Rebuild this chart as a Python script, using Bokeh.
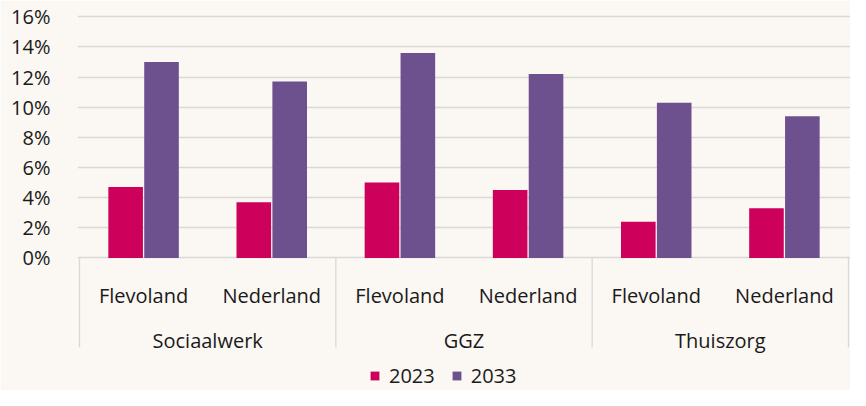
from bokeh.plotting import figure
from bokeh.models import (ColumnDataSource, FactorRange, Range1d, FixedTicker,
                          PrintfTickFormatter, Legend, LegendItem)
from bokeh.transform import dodge
from bokeh.core.properties import value
from bokeh.embed import file_html
from bokeh.resources import INLINE

# ---- data ----
groups = ["Sociaalwerk", "GGZ", "Thuiszorg"]
regions = ["Flevoland", "Nederland"]
years = ["2023", "2033"]
share_2023 = [4.7, 3.7, 5.0, 4.5, 2.4, 3.3]
share_2033 = [13.0, 11.7, 13.6, 12.2, 10.3, 9.4]
y_ticks = [0, 2, 4, 6, 8, 10, 12, 14, 16]

factors = [(g, r) for g in groups for r in regions]
sub_labels = [r for g in groups for r in regions]

# ---- style ----
BG = "#FBF7F2"
C23 = "#CD005C"
C33 = "#6D518F"
TXT = "#1A1A1A"
GRID = "#D9D9D9"
FONT = "Open Sans"

W, H = 850, 390
TOP = 4
Y0 = 257.4                      # pixel row of 0%
PX = (Y0 - 16.3) / 16.0         # pixels per percentage point
y_top = (Y0 - TOP) / PX
y_bot = (Y0 - H) / PX

x_range = FactorRange(*factors, factor_padding=0, group_padding=0,
                      range_padding=0.0156, range_padding_units="absolute")

p = figure(width=W, height=H, x_range=x_range,
           y_range=Range1d(y_bot, y_top),
           x_axis_location=None, output_backend="svg", toolbar_location=None,
           min_border_left=77, min_border_right=0, min_border_top=TOP,
           min_border_bottom=0, background_fill_color=BG, border_fill_color=BG,
           outline_line_color=None)

# y axis
p.yaxis.ticker = FixedTicker(ticks=y_ticks)
p.yaxis.formatter = PrintfTickFormatter(format="%d%%")
p.yaxis.axis_line_color = None
p.yaxis.major_tick_line_color = None
p.yaxis.minor_tick_line_color = None
p.yaxis.major_label_text_font = FONT
p.yaxis.major_label_text_font_size = "20px"
p.yaxis.major_label_text_color = TXT
p.yaxis.major_label_standoff = 21
p.ygrid.grid_line_color = GRID
p.ygrid.grid_line_width = 1.3
p.xgrid.grid_line_color = None

# bars
src = ColumnDataSource(dict(x=factors, v2023=share_2023, v2033=share_2033))
r1 = p.vbar(x=dodge("x", -0.14, range=p.x_range), top="v2023", width=0.27,
            source=src, fill_color=C23, line_color=None)
r2 = p.vbar(x=dodge("x", 0.14, range=p.x_range), top="v2033", width=0.27,
            source=src, fill_color=C33, line_color=None)

# category separators (multi-level axis look)
bnd = [[g, regions[0], -0.5] for g in groups] + [[groups[-1], regions[-1], 0.5]]
sep_src = ColumnDataSource(dict(x=bnd))
p.segment(x0="x", y0=0, x1="x", y1=(Y0 - 346.8) / PX, source=sep_src,
          line_color=GRID, line_width=1.3)

# sub-category labels
lab_src = ColumnDataSource(dict(x=factors, text=sub_labels))
p.text(x="x", y=(Y0 - 294.9) / PX, text="text", source=lab_src,
       text_font=value(FONT), text_font_size="20px", text_color=TXT,
       text_align="center", text_baseline="alphabetic")

# group labels
grp_src = ColumnDataSource(dict(x=groups, text=groups))
p.text(x="x", y=(Y0 - 340.1) / PX, text="text", source=grp_src,
       text_font=value(FONT), text_font_size="20px", text_color=TXT,
       text_align="center", text_baseline="alphabetic")

legend = Legend(items=[LegendItem(label=years[0], renderers=[r1]),
                       LegendItem(label=years[1], renderers=[r2])],
                location=(292, 1), orientation="horizontal",
                padding=0, margin=0, spacing=16, label_standoff=9,
                glyph_width=11, glyph_height=11, label_height=18,
                label_text_font=FONT, label_text_font_size="20px",
                label_text_color=TXT, background_fill_alpha=0,
                border_line_color=None)
p.add_layout(legend)

open("out.html", "w").write(file_html(p, INLINE))
